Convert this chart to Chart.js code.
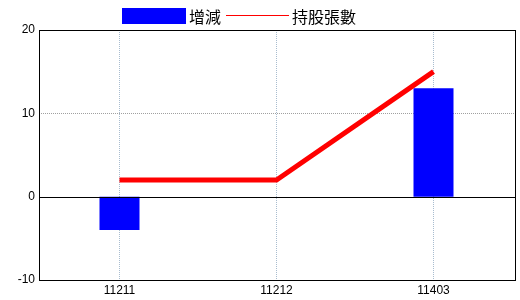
<!DOCTYPE html>
<html>
<head>
<meta charset="utf-8">
<script src="https://cdn.jsdelivr.net/npm/chart.js@4"></script>
<style>
  html, body { margin: 0; padding: 0; background: #fff; }
  #wrap { width: 520px; height: 300px; }
</style>
</head>
<body>
<div id="wrap"><canvas id="chart" width="520" height="300"></canvas></div>
<script>
const categories = ['11211', '11212', '11403'];
const changeValues = [-4, 0, 13];
const holdingValues = [2, 2, 15];
const yTicks = [-10, 0, 10, 20];
const yGridTicks = [10];

const seriesNames = ['增減', '持股張數'];
const barColor = '#0000ff';
const lineColor = '#ff0000';

// frame box is a bit wider than the category area
const frameBox = { left: 39, right: 516 };

const frame = {
  id: 'frame',
  beforeDatasetsDraw(chart) {
    const { ctx, scales } = chart;
    ctx.save();
    ctx.strokeStyle = '#a0a0a0';
    ctx.lineWidth = 1;
    ctx.setLineDash([1, 1]);
    yGridTicks.forEach(v => {
      const y = Math.round(scales.y.getPixelForValue(v)) + 0.5;
      ctx.beginPath();
      ctx.moveTo(frameBox.left, y);
      ctx.lineTo(frameBox.right, y);
      ctx.stroke();
    });
    ctx.restore();
  },
  afterDatasetsDraw(chart) {
    const { ctx, chartArea, scales } = chart;
    ctx.save();
    ctx.strokeStyle = '#000';
    ctx.lineWidth = 1;
    const y0 = Math.round(scales.y.getPixelForValue(0)) + 0.5;
    ctx.beginPath();
    ctx.moveTo(frameBox.left, y0);
    ctx.lineTo(frameBox.right, y0);
    ctx.stroke();
    ctx.strokeRect(frameBox.left + 0.5, Math.round(chartArea.top) + 0.5,
      frameBox.right - frameBox.left - 1, Math.round(chartArea.bottom - chartArea.top));
    ctx.restore();
  },
  afterDraw(chart) {
    const { ctx } = chart;
    ctx.save();
    ctx.globalAlpha = 1;
    ctx.setLineDash([]);
    ctx.font = '16px "Noto Sans CJK TC", sans-serif';
    ctx.textBaseline = 'middle';
    ctx.textAlign = 'left';
    ctx.fillStyle = barColor;
    ctx.fillRect(122, 8, 64, 16);
    ctx.fillStyle = lineColor;
    ctx.fillRect(226, 15, 63, 1);
    ctx.fillStyle = '#000';
    ctx.fillText(seriesNames[0], 189, 17);
    ctx.fillText(seriesNames[1], 292, 17);
    ctx.restore();
  }
};

const tickFont = { family: '"Liberation Sans", Arial, sans-serif', size: 12 };

new Chart(document.getElementById('chart'), {
  type: 'bar',
  data: {
    labels: categories,
    datasets: [
      {
        type: 'line',
        label: seriesNames[1],
        data: holdingValues,
        borderColor: lineColor,
        backgroundColor: lineColor,
        borderWidth: 5,
        pointRadius: 0,
        tension: 0,
        order: 0
      },
      {
        label: seriesNames[0],
        data: changeValues,
        backgroundColor: barColor,
        borderWidth: 0,
        barPercentage: 40 / 157,
        categoryPercentage: 1,
        order: 1
      }
    ]
  },
  options: {
    responsive: false,
    animation: false,
    layout: { padding: { left: 0, right: 8, top: 30, bottom: 0 } },
    plugins: {
      legend: { display: false },
      tooltip: { enabled: false }
    },
    scales: {
      x: {
        offset: true,
        grid: {
          offset: false,
          color: '#a8bccf',
          drawTicks: false
        },
        border: { display: false, dash: [1, 1] },
        ticks: {
          color: '#000',
          padding: 3,
          font: tickFont
        },
        afterFit(scale) { scale.height = 20; }
      },
      y: {
        min: -10,
        max: 20,
        afterBuildTicks(scale) { scale.ticks = yTicks.map(v => ({ value: v })); },
        grid: { display: false, drawTicks: false },
        border: { display: false },
        ticks: {
          color: '#000',
          padding: 6,
          font: tickFont
        },
        afterFit(scale) { scale.width = 41; }
      }
    }
  },
  plugins: [frame]
});
</script>
</body>
</html>
